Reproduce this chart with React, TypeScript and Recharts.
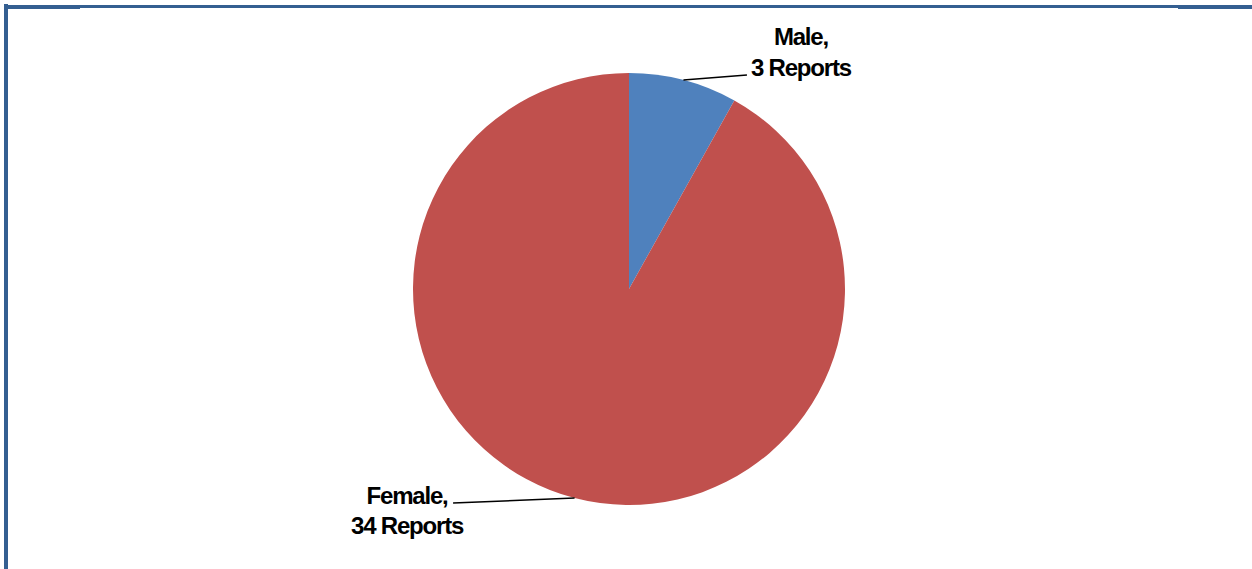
import React from "react";
import { PieChart, Pie, Cell } from "recharts";

const categories = ["Male", "Female"];
const reports = [3, 34];
const colors = ["#4f81bd", "#c0504d"];

const data = categories.map((name, i) => ({ name, value: reports[i] }));

const RAD = Math.PI / 180;

// leader offsets per slice (relative to the point on the rim at the slice's mid angle)
const leaderEnds = [
  { dx: 63.5, dy: -5, tx: 117.5, ty1: -35, ty2: -3.5 },
  { dx: -121.5, dy: 5, tx: -167.5, ty1: 5.5, ty2: 35.5 },
];

const renderLabel = (props: any) => {
  const { cx, cy, midAngle, outerRadius, index, name, value } = props;
  const ex = cx + outerRadius * Math.cos(-midAngle * RAD);
  const ey = cy + outerRadius * Math.sin(-midAngle * RAD);
  const o = leaderEnds[index];
  return (
    <g key={`lbl-${index}`}>
      <line x1={ex} y1={ey} x2={ex + o.dx} y2={ey + o.dy} stroke="#000" strokeWidth={1.5} />
      <text
        x={ex + o.tx}
        textAnchor="middle"
        fill="#000"
        fontFamily="'Liberation Sans', Arial, sans-serif"
        fontWeight="bold"
        fontSize={24}
        letterSpacing={-1.2}
      >
        <tspan x={ex + o.tx} y={ey + o.ty1}>{`${name},`}</tspan>
        <tspan x={ex + o.tx} y={ey + o.ty2}>{`${value} Reports`}</tspan>
      </text>
    </g>
  );
};

const BORDER = "#345f91";

export default function App() {
  return (
    <div style={{ position: "absolute", left: 0, top: 0, width: 1252, height: 569, background: "#fff" }}>
      <div style={{ position: "absolute", left: 4, top: 4, width: 4, height: 565, background: BORDER }} />
      <div style={{ position: "absolute", left: 4, top: 5, width: 1248, height: 3, background: BORDER }} />
      <div style={{ position: "absolute", left: 4, top: 5, width: 76, height: 4, background: BORDER }} />
      <div style={{ position: "absolute", left: 1178, top: 5, width: 74, height: 4, background: BORDER }} />
      <div style={{ position: "absolute", left: 0, top: 0 }}>
        <PieChart width={1252} height={569} margin={{ top: 0, right: 0, bottom: 0, left: 0 }}>
          <Pie
            data={data}
            dataKey="value"
            nameKey="name"
            cx={629}
            cy={289}
            outerRadius={216}
            startAngle={90}
            endAngle={-270}
            stroke="none"
            labelLine={false}
            label={renderLabel}
            isAnimationActive={false}
          >
            {data.map((d, i) => (
              <Cell key={d.name} fill={colors[i]} />
            ))}
          </Pie>
        </PieChart>
      </div>
    </div>
  );
}
